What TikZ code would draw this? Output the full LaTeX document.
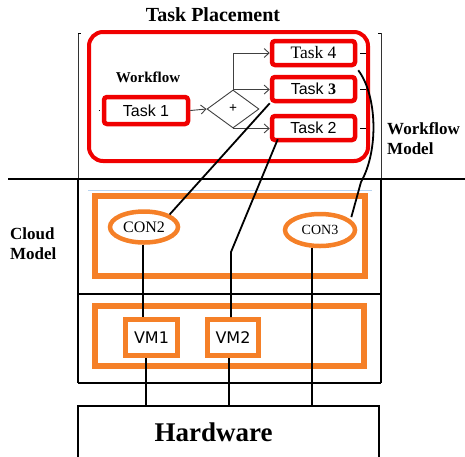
\documentclass[tikz,border=0pt]{standalone}
\usepackage{fontspec}
\setmainfont{Liberation Serif}
\newfontfamily\arialfont{Liberation Sans}
\newfontfamily\dvfont{DejaVu Sans}
\usetikzlibrary{shapes.geometric,arrows.meta}
\definecolor{wfred}{RGB}{240,0,0}
\definecolor{cloudorange}{RGB}{245,128,40}
\definecolor{faintblue}{RGB}{185,212,240}

\begin{document}
\begin{tikzpicture}[x=1pt,y=-1pt,
  taskbox/.style={draw=wfred, line width=4.5pt, rounded corners=3pt, inner sep=0pt,
                  minimum width=83pt, minimum height=24pt},
  vmbox/.style={draw=cloudorange, line width=5pt, inner sep=0pt,
                minimum width=52pt, minimum height=36pt, font=\dvfont\fontsize{16}{18}\selectfont},
  conell/.style={draw=cloudorange, ellipse, line width=4.5pt, inner sep=0pt},
  layerbox/.style={draw=cloudorange, line width=6pt, inner sep=0pt},
  frame/.style={draw=black, line width=1.3pt},
  thinframe/.style={draw=black!80, line width=0.9pt},
  flow/.style={draw=black!75, line width=0.9pt, -{Straight Barb[length=5pt,width=9pt]}},
  link/.style={draw=black, line width=1.8pt},
  tick/.style={draw=black, line width=0.9pt},
  heading/.style={font=\bfseries\fontsize{17}{20}\selectfont, align=left, anchor=west, inner sep=0pt}]

\clip (0,0) rectangle (465,456);

% frame of the layered model
\coordinate (ftl) at (78,33);
\coordinate (ftr) at (381,33);
\coordinate (fml) at (78,179);
\coordinate (fmr) at (381,179);
\coordinate (fbl) at (78,383);
\coordinate (fbr) at (381,383);
\draw[thinframe] (ftl) -- (fml);
\draw[thinframe] (ftr) -- (fmr);
\draw[frame] (fml) -- (fbl);
\draw[frame] (fmr) -- (fbr);
\draw[tick] (ftl) -- ++(3,0);
\draw[tick] (ftr) -- ++(-3,0);
\draw[frame] (fbl) -- (fbr);
\coordinate (sepl) at (8,179);
\coordinate (sepr) at (465,179);
\draw[frame] (sepl) -- (sepr);
\coordinate (midl) at (78,294);
\coordinate (midr) at (381,294);
\draw[frame] (midl) -- (midr);
\coordinate (bl1) at (88,190);
\coordinate (bl2) at (372,190);
\draw[faintblue, line width=0.7pt] (bl1) -- (bl2);

% headings
\node[font=\bfseries\fontsize{20}{24}\selectfont, inner sep=0pt] (title) at (213,15) {Task Placement};
\node[heading] (wfmodel) at (387,139) {Workflow\\Model};
\node[heading] (cloudmodel) at (10,244) {Cloud\\Model};

% workflow
\node[draw=wfred, line width=4pt, rounded corners=14pt, inner sep=0pt,
      minimum width=279pt, minimum height=129pt] (wf) at (228.5,96.5) {};
\node[font=\bfseries\fontsize{15}{18}\selectfont, inner sep=0pt] (wflabel) at (148,77) {Workflow};
\node[taskbox, minimum width=84pt, minimum height=27pt, font=\arialfont\fontsize{16}{18}\selectfont] (t1) at (146,110.5) {Task 1};
\node[diamond, draw=black!75, line width=0.9pt, inner sep=0pt,
      minimum width=52pt, minimum height=38pt, font=\bfseries\fontsize{14}{16}\selectfont] (d) at (233,109) {+};
\node[taskbox, font=\fontsize{17.5}{20}\selectfont] (t4) at (313.5,53) {Task 4};
\node[taskbox, font=\arialfont\fontsize{16}{18}\selectfont] (t3) at (313.5,89) {Task {\rmfamily\bfseries 3}};
\node[taskbox, font=\arialfont\fontsize{16}{18}\selectfont] (t2) at (313.5,128) {Task 2};

\draw[flow] (t1.east) -- (d.west);
\draw[flow] (d.north) |- (t4.west);
\draw[flow] (d.north) -- (d.north -| t3.west);
\draw[flow] (d.south) -- (d.south -| t2.west);

\draw[tick] ([xshift=-3pt]t1.west) -- ([xshift=-1.5pt]t1.west);
\draw[tick] ([xshift=3pt]t4.east) -- ([xshift=9pt]t4.east);
\draw[tick] ([xshift=3pt]t3.east) -- ([xshift=9pt]t3.east);
\draw[tick] ([xshift=3pt]t2.east) -- ([xshift=9pt]t2.east);

% cloud layer with containers
\node[layerbox, minimum width=270pt, minimum height=80pt] (cl) at (230,236) {};
\node[conell, minimum width=68pt, minimum height=31pt, font=\fontsize{16}{18}\selectfont] (con2) at (144,227) {CON2};
\node[conell, minimum width=70pt, minimum height=32pt, font=\fontsize{14}{16}\selectfont] (con3) at (320,230) {CON3};

% virtual machine layer
\node[layerbox, minimum width=269pt, minimum height=60pt] (vl) at (229.5,336) {};
\node[vmbox] (vm1) at (151.5,337.5) {VM1};
\node[vmbox, minimum width=51pt] (vm2) at (233,337.5) {VM2};

% hardware
\node[draw=black, line width=1.8pt, inner sep=0pt, minimum width=301pt, minimum height=52pt] (hw) at (228.5,432) {};
\node[font=\bfseries\fontsize{27}{30}\selectfont, inner sep=0pt] (hwlabel) at ([xshift=-15pt]hw.center) {Hardware};

% placement links
\draw[link] (t3.south west) -- (con2.north east);
\coordinate (k2) at (231,252);
\draw[link] ([xshift=8pt,yshift=3pt]t2.south west) -- (k2) -- (k2 |- vm2.north);
\coordinate (k4) at (361,182);
\draw[link] ([xshift=1pt,yshift=-3pt]t4.south east) .. controls (377,95) and (379,150) .. (k4) -- ([xshift=5pt]con3.north east);

% links down to the hardware
\draw[link] ([xshift=-1pt]con2.south) -- ([xshift=-1pt]con2.south |- vm1.north);
\draw[link] ([xshift=-5.5pt]vm1.south) -- ([xshift=-5.5pt]vm1.south |- hw.north);
\draw[link] ([xshift=-4pt]vm2.south) -- ([xshift=-4pt]vm2.south |- hw.north);
\draw[link] ([xshift=-8pt]con3.south) -- ([xshift=-8pt]con3.south |- hw.north);

\end{tikzpicture}
\end{document}
